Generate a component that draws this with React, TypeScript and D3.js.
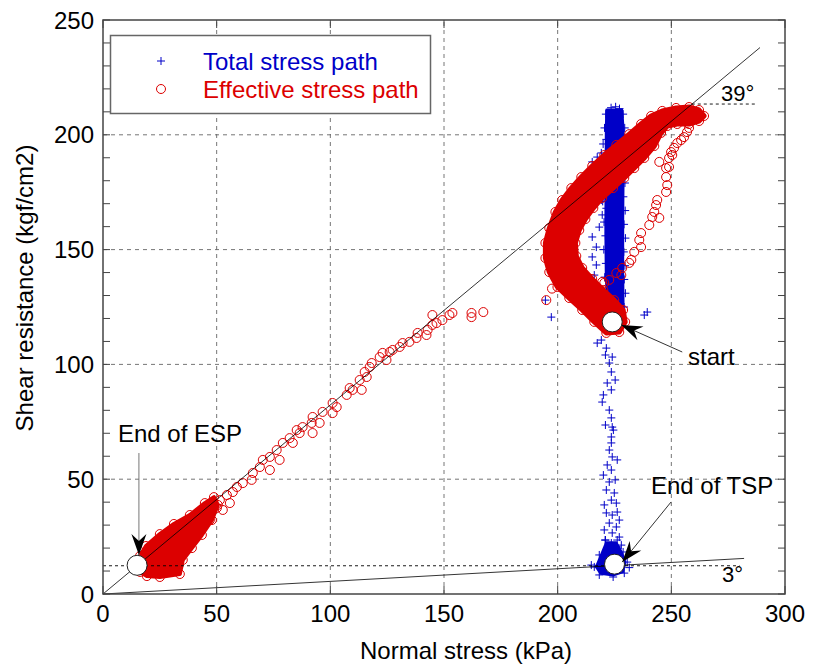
import * as React from 'react'
import * as d3 from 'd3'

const width = 813
const height = 671
const margin = { top: 20, right: 28, bottom: 77, left: 103 }
const red = '#dc0000'
const blue = '#0000c8'
const font = '"Liberation Sans", Arial, Helvetica, sans-serif'

type Pt = [number, number]

const xTicks = [0, 50, 100, 150, 200, 250, 300]
const yTicks = [0, 50, 100, 150, 200, 250]

// total stress path: dense upper column (outline), bottom cluster (outline), loose points
const tspColumn: Pt[] = [
  [221.6, 210.8], [228.2, 210.8], [228.8, 202.1], [228.8, 184.7], [228.6, 162.9],
  [228.6, 141.1], [228.8, 121.5], [226.2, 118.5], [222.7, 120.2], [221.4, 136.8],
  [221.2, 158.5], [221.3, 180.3], [221.4, 202.1],
]
const tspBlob: Pt[] = [
  [221.3, 22.5], [225.8, 22.5], [228.2, 18.3], [229.8, 13.9], [228.8, 9.6],
  [224.4, 8.0], [218.8, 8.8], [216.8, 11.8], [218.8, 16.5],
]
const tspPoints: Pt[] = [
  // column edges
  [221.2, 209], [220.6, 203], [221.4, 198], [220.8, 191], [220.3, 186], [221.1, 180],
  [220.5, 174], [221.4, 168], [220.4, 162], [221.0, 156], [220.3, 150], [221.2, 144],
  [220.7, 138], [221.3, 132], [221.0, 126], [221.9, 121], [220.0, 196], [219.8, 171],
  [228.8, 209], [229.5, 203], [229.0, 197], [229.7, 191], [229.2, 185], [229.6, 179],
  [228.9, 173], [229.7, 167], [229.2, 161], [229.8, 155], [229.1, 149], [229.6, 143],
  [229.3, 137], [229.8, 131], [229.2, 125], [228.6, 120], [223.5, 211.8], [225.5, 212.2], [227.2, 211.4],
  // left of the column
  [215.2, 188.2], [217.4, 190.3], [219.2, 192.1], [218.3, 179.0], [219.2, 171.6],
  [219.6, 165.1], [218.3, 159.8], [215.2, 155.5], [217.0, 151.1], [215.2, 146.8],
  [217.0, 143.3], [216.1, 138.9], [206.4, 130.2], [215.2, 123.7], [197.2, 120.6],
  [194.6, 128.0], [238.1, 121.5], [239.4, 122.8],
  // descending branch
  [217.4, 109.3], [219.2, 110.6], [221.4, 107.1], [224.0, 103.2], [222.7, 100.6],
  [223.6, 96.7], [221.8, 91.9], [223.6, 88.9], [219.6, 83.6], [222.7, 80.1],
  [223.6, 76.7], [224.0, 72.7], [223.6, 68.4], [223.6, 65.8], [222.7, 62.7],
  [224.0, 59.7], [221.8, 56.2], [223.6, 54.0], [222.7, 48.8], [221.4, 45.3],
  [224.9, 44.0], [223.6, 40.9], [225.8, 39.6], [221.4, 35.3], [224.0, 34.4],
  [226.2, 35.7], [222.7, 30.9], [225.8, 29.2], [224.0, 26.6], [227.1, 24.8],
  [223.6, 22.2], [226.2, 20.5], [224.9, 19.2], [221.0, 104.1], [225.3, 93.2],
  [220.1, 86.7], [224.5, 71.4], [221.0, 73.6], [226.2, 58.4], [220.1, 51.8],
  [225.3, 49.7], [220.5, 38.8], [227.1, 32.2], [220.5, 27.9], [228.0, 21.3],
  [221.0, 23.5],
  // bottom cluster edges
  [220.9, 23.5], [226.2, 23.5], [228.8, 18.3], [230.6, 13.9], [229.3, 9.1],
  [224.4, 7.4], [218.3, 8.3], [216.1, 11.8], [218.3, 17.0], [214.8, 12.6], [231.5, 11.5],
]

// effective stress path: dense band (outline), dense end cluster (outline), loose points
const espBand: Pt[] = [
  [221.4, 113.7], [216.1, 118.5], [210.8, 123.7], [205.1, 128.9], [199.9, 133.7],
  [196.3, 140.2], [194.6, 146.3], [194.6, 152.9], [196.3, 159.4], [199.0, 166.4],
  [202.0, 171.6], [206.0, 176.8], [210.4, 181.6], [215.2, 186.4], [220.5, 191.2],
  [225.8, 195.6], [231.5, 200.3], [236.7, 204.7], [241.1, 208.2], [246.0, 210.4],
  [252.1, 211.7], [257.8, 212.1], [262.2, 210.8], [264.4, 208.2], [262.2, 206.0],
  [257.8, 204.7], [252.6, 204.7], [248.2, 203.8], [245.5, 200.8], [242.5, 195.1],
  [238.1, 189.9], [233.7, 185.5], [229.3, 181.2], [224.4, 176.8], [219.6, 172.5],
  [215.7, 168.1], [212.2, 163.3], [209.5, 158.5], [207.8, 152.9], [208.2, 147.2],
  [210.8, 142.0], [215.2, 137.2], [220.1, 132.4], [224.9, 128.0], [228.8, 123.7],
  [229.7, 118.5], [227.1, 114.1],
]
const espBlob: Pt[] = [
  [16.3, 9.6], [16.3, 16.6], [18.9, 20.9], [25.0, 26.1], [31.2, 30.5], [38.2, 34.4],
  [44.8, 39.6], [48.8, 42.2], [50.5, 38.8], [47.9, 32.2], [43.5, 25.7], [39.1, 20.0],
  [35.1, 14.8], [33.8, 8.7], [25.0, 7.4], [19.3, 7.8],
]
const espPoints: Pt[] = [
  // rising branch along the 39 deg line
  [33.8, 26.6], [36.9, 27.9], [39.5, 29.2], [42.6, 30.9], [45.7, 35.3], [47.0, 32.2],
  [50.1, 37.5], [51.4, 40.9], [52.7, 36.6], [54.5, 43.1], [55.8, 39.6], [57.1, 44.4],
  [58.9, 46.6], [61.5, 48.3], [65.4, 49.7], [65.9, 52.7], [69.0, 55.3], [70.3, 58.4],
  [73.4, 59.7], [73.4, 54.0], [76.4, 62.7], [77.7, 58.4], [79.1, 65.8], [82.1, 67.9],
  [83.5, 65.8], [85.2, 71.4], [86.5, 70.1], [87.8, 72.7], [91.8, 74.5], [92.2, 70.1],
  [92.2, 77.1], [95.3, 74.5], [96.6, 79.3], [101.0, 83.2], [102.8, 81.4], [101.0, 78.8],
  [107.2, 86.7], [108.5, 89.7], [109.8, 88.9], [113.8, 88.9], [112.9, 93.2], [116.0, 94.5],
  [115.1, 96.7], [117.3, 98.9], [118.2, 100.6], [121.7, 103.2], [123.0, 105.0], [124.7, 101.9],
  [126.1, 105.4], [127.4, 106.3], [130.5, 107.6], [131.8, 109.3], [134.8, 109.8], [137.9, 111.5],
  [138.4, 113.7], [142.3, 112.8], [142.8, 115.0], [144.9, 117.2], [146.7, 118.0], [144.9, 121.5],
  [149.3, 119.3], [152.4, 121.5], [153.7, 122.4], [162.1, 122.4], [162.1, 120.6], [167.3, 122.8],
  [195.0, 128.0], [197.5, 133.0],
  // return branch on the right
  [219.6, 135.9], [220.5, 135.5], [222.7, 136.8], [225.8, 139.8], [228.0, 138.9],
  [228.4, 142.0], [231.5, 144.2], [232.4, 145.5], [233.7, 149.0], [236.7, 151.1],
  [235.9, 154.2], [236.7, 157.2], [240.3, 160.7], [241.6, 164.2], [244.7, 163.8],
  [242.5, 166.4], [243.3, 169.4], [243.8, 171.6], [247.7, 175.1], [248.2, 178.1],
  [247.7, 181.6], [249.0, 186.0], [247.7, 185.5], [244.7, 188.2], [249.0, 189.9],
  [250.4, 191.2], [249.9, 192.5], [251.2, 194.3], [252.6, 196.4], [254.3, 197.7],
  [255.6, 199.0], [256.9, 201.2], [257.8, 203.0],
]

const endESP: Pt = [15, 12.5]
const startPt: Pt = [224, 118.5]
const endTSP: Pt = [225, 13]

const Arrow = ({ x1, y1, x2, y2, stroke }: any) => {
  const ang = (Math.atan2(y2 - y1, x2 - x1) * 180) / Math.PI
  return (
    <g>
      <line x1={x1} y1={y1} x2={x2} y2={y2} stroke={stroke} strokeWidth={1} />
      <path d="M0,0L-21,-7.5L-14,0L-21,7.5Z" fill="#000" transform={`translate(${x2},${y2}) rotate(${ang})`} />
    </g>
  )
}

export default function App() {
  const x = d3.scaleLinear().domain([0, 300]).range([margin.left, width - margin.right])
  const y = d3.scaleLinear().domain([0, 250]).range([height - margin.bottom, margin.top])
  const outline = d3
    .line<Pt>()
    .x(d => x(d[0]))
    .y(d => y(d[1]))
    .curve(d3.curveLinearClosed)
  const plus = (pts: Pt[]) =>
    pts.map(([a, b]) => `M${x(a) - 4},${y(b)}h8M${x(a)},${y(b) - 4}v8`).join('')

  const x0 = x(0), x1 = x(300), y0 = y(0), y1 = y(250)
  const yMinor = y.ticks(25)

  return (
    <svg width={width} height={height} style={{ position: 'absolute', left: 0, top: 0, background: '#fff' }} fontFamily={font}>
      {/* grid */}
      {xTicks.slice(1, -1).map(t => (
        <line key={'gx' + t} x1={x(t)} x2={x(t)} y1={y0} y2={y1} stroke="#666" strokeDasharray="4,4" strokeWidth={0.9} />
      ))}
      {yTicks.slice(1, -1).map(t => (
        <line key={'gy' + t} x1={x0} x2={x1} y1={y(t)} y2={y(t)} stroke="#666" strokeDasharray="4,4" strokeWidth={0.9} />
      ))}

      {/* total stress path */}
      <path d={outline(tspColumn)!} fill={blue} stroke={blue} strokeWidth={3} strokeLinejoin="round" />
      <path d={outline(tspBlob)!} fill={blue} stroke={blue} strokeWidth={2} strokeLinejoin="round" />
      <path d={plus(tspPoints)} stroke={blue} strokeWidth={1} fill="none" />

      {/* effective stress path */}
      <path d={outline(espBand)!} fill={red} stroke={red} strokeWidth={5} strokeLinejoin="round" />
      <path d={outline(espBlob)!} fill={red} stroke={red} strokeWidth={4} strokeLinejoin="round" />
      {[...espBand, ...espBlob, ...espPoints].map((d, i) => (
        <circle key={i} cx={x(d[0])} cy={y(d[1])} r={4.5} fill="none" stroke={red} strokeWidth={1} />
      ))}

      {/* friction lines */}
      <line x1={x(0)} y1={y(0)} x2={x(289)} y2={y(238)} stroke="#000" strokeWidth={0.8} />
      <line x1={x(0)} y1={y(0)} x2={x(282)} y2={y(15.5)} stroke="#000" strokeWidth={0.8} />
      <line x1={x(259)} y1={y(213.4)} x2={x(287)} y2={y(213.4)} stroke="#000" strokeWidth={0.9} strokeDasharray="3,3" />
      <line x1={x(0)} y1={y(12.3)} x2={x(280)} y2={y(12.3)} stroke="#000" strokeWidth={0.9} strokeDasharray="3,3" />
      <text x={721} y={101} fontSize={22}>39°</text>
      <text x={722} y={582} fontSize={22}>3°</text>

      {/* markers for start / end points */}
      {[endESP, startPt, endTSP].map((d, i) => (
        <circle key={'m' + i} cx={x(d[0])} cy={y(d[1])} r={10} fill="#fff" stroke="#222" strokeWidth={1} />
      ))}

      {/* annotations */}
      <Arrow x1={x(15.8)} y1={y(61.4)} x2={x(15.8)} y2={y(17)} stroke="#777" />
      <text x={118} y={442} fontSize={24}>End of ESP</text>
      <Arrow x1={x(254.8)} y1={y(105.4)} x2={x(228.0)} y2={y(117.2)} stroke="#333" />
      <text x={688} y={365} fontSize={24}>start</text>
      <Arrow x1={x(249.9)} y1={y(40.1)} x2={x(228.4)} y2={y(13.9)} stroke="#333" />
      <text x={651} y={494} fontSize={24}>End of TSP</text>

      {/* axes frame and ticks */}
      <rect x={x0} y={y1} width={x1 - x0} height={y0 - y1} fill="none" stroke="#444" strokeWidth={1.5} />
      {xTicks.map(t => (
        <g key={'tx' + t}>
          <line x1={x(t)} x2={x(t)} y1={y0} y2={y0 - 8} stroke="#444" />
          <line x1={x(t)} x2={x(t)} y1={y1} y2={y1 + 8} stroke="#444" />
          <text x={x(t)} y={622} fontSize={24} textAnchor="middle">{t}</text>
        </g>
      ))}
      {yMinor.map(t => (
        <g key={'ty' + t}>
          <line x1={x0} x2={x0 + 7} y1={y(t)} y2={y(t)} stroke="#444" />
          <line x1={x1} x2={x1 - 7} y1={y(t)} y2={y(t)} stroke="#444" />
        </g>
      ))}
      {yTicks.map(t => (
        <text key={'ly' + t} x={94} y={y(t)} dy="0.36em" fontSize={24} textAnchor="end">{t}</text>
      ))}
      <text x={466} y={659} fontSize={24} textAnchor="middle">Normal stress (kPa)</text>
      <text transform="translate(33,288) rotate(-90)" fontSize={24} textAnchor="middle">Shear resistance (kgf/cm2)</text>

      {/* legend */}
      <rect x={110.5} y={35.5} width={320} height={78} fill="#fff" stroke="#666" strokeWidth={1.5} />
      <path d="M157,61h8M161,57v8" stroke={blue} strokeWidth={1} />
      <circle cx={161} cy={89} r={4.5} fill="none" stroke={red} strokeWidth={1} />
      <text x={203} y={70} fontSize={24} fill={blue}>Total stress path</text>
      <text x={203} y={98} fontSize={24} fill={red}>Effective stress path</text>
    </svg>
  )
}
